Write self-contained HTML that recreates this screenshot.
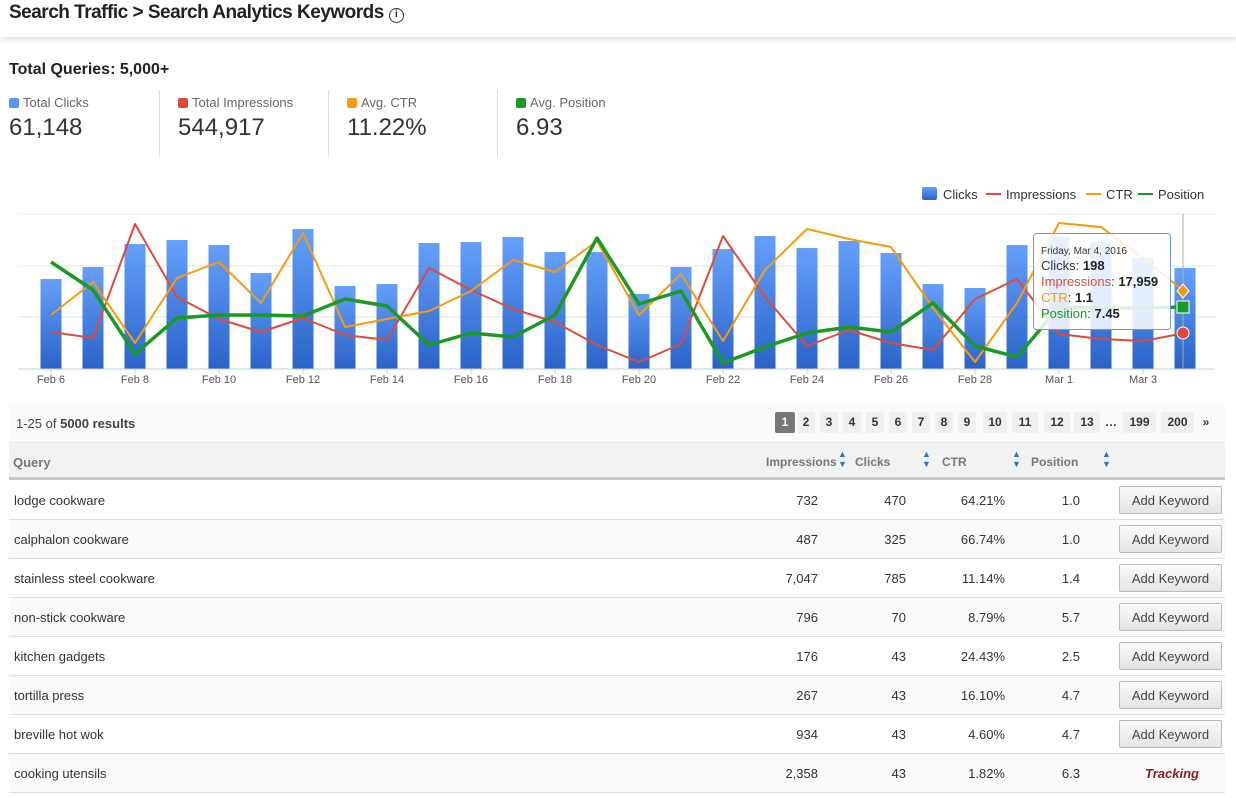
<!DOCTYPE html>
<html><head><meta charset="utf-8">
<style>
*{box-sizing:border-box;margin:0;padding:0}
body{width:1236px;height:798px;overflow:hidden;background:#fff;font-family:"Liberation Sans",sans-serif;color:#333;position:relative}
.a{position:absolute;white-space:nowrap}
.hdr{position:absolute;left:0;top:0;width:1236px;height:37px;background:#fff;box-shadow:0 2px 6px rgba(0,0,0,.15)}
.sl{font-size:13px;color:#666}
.sl i{display:inline-block;width:10px;height:10px;border-radius:2px;margin-right:4px;vertical-align:-1px}
.sv{font-size:24px;color:#333}
.dv{position:absolute;top:90px;width:1px;height:67px;background:#ddd}
.pg{position:absolute;top:412px;height:21px;background:#f0f0f0;font-size:12px;font-weight:bold;color:#333;text-align:center;line-height:21px}
.row{position:absolute;left:9px;width:1216px;height:39px;border-bottom:1px solid #ddd;font-size:13px}
.row span{position:absolute;top:12px}
.btn{position:absolute;left:1110px;top:5px;width:103px;height:28px;border:1px solid #bbb;border-radius:2px;background:linear-gradient(#fafafa,#e4e4e4);font-size:13px;color:#444;text-align:center;line-height:28px}
.ar{position:absolute;top:449px;color:#2a77c9;font-size:9px;line-height:10px}
.hl{position:absolute;top:455px;font-size:12px;font-weight:bold;color:#777}
</style></head><body>
<div class="hdr"></div>
<div class="a" style="left:9px;top:2px;font-size:19px;font-weight:bold;color:#222;letter-spacing:-0.5px">Search Traffic &gt; Search Analytics Keywords <span style="display:inline-block;width:15px;height:15px;border:1.5px solid #333;border-radius:50%;font-size:10px;text-align:center;line-height:12px;vertical-align:1px">i</span></div>
<div class="a" style="left:9px;top:61px;font-size:16px;font-weight:bold;color:#222">Total Queries: 5,000+</div>
<div class="a sl" style="left:9px;top:95px"><i style="background:#5b95f0"></i>Total Clicks</div>
<div class="a sl" style="left:178px;top:95px"><i style="background:#e04a3a"></i>Total Impressions</div>
<div class="a sl" style="left:347px;top:95px"><i style="background:#f89a0e"></i>Avg. CTR</div>
<div class="a sl" style="left:516px;top:95px"><i style="background:#1a9a22"></i>Avg. Position</div>
<div class="a sv" style="left:9px;top:114px">61,148</div>
<div class="a sv" style="left:178px;top:114px">544,917</div>
<div class="a sv" style="left:347px;top:114px">11.22%</div>
<div class="a sv" style="left:516px;top:114px">6.93</div>
<div class="dv" style="left:159px"></div><div class="dv" style="left:328px"></div><div class="dv" style="left:497px"></div>

<svg id="ch" class="a" style="left:0;top:180px" width="1236" height="215" xmlns="http://www.w3.org/2000/svg"></svg>

<div class="a" style="left:9px;top:403px;width:1216px;height:40px;background:#fafafa;border-bottom:1px solid #e6e6e6"></div>
<div class="a" style="left:16px;top:416px;font-size:13px;color:#444">1-25 of <b>5000 results</b></div>
<div id="pgs"></div>
<div class="a" style="left:9px;top:443px;width:1216px;height:37px;background:#f2f2f2;border-bottom:3px solid #c8c8c8"></div>
<div class="hl" style="left:13px;top:455px;font-size:13px">Query</div>
<div class="hl" style="left:766px">Impressions</div>
<div class="hl" style="left:855px">Clicks</div>
<div class="hl" style="left:942px">CTR</div>
<div class="hl" style="left:1031px">Position</div>
<div class="ar" style="left:838px">▲<br>▼</div><div class="ar" style="left:922px">▲<br>▼</div><div class="ar" style="left:1012px">▲<br>▼</div><div class="ar" style="left:1102px">▲<br>▼</div>
<div id="rows"></div>
<script>
var S='http://www.w3.org/2000/svg',svg=document.getElementById('ch');
function el(t,a,txt){var e=document.createElementNS(S,t);for(var k in a)e.setAttribute(k,a[k]);if(txt)e.textContent=txt;svg.appendChild(e);return e}
var o=180;
[214,266,317].forEach(function(y){el('line',{x1:18,x2:1215,y1:y-o,y2:y-o,stroke:'#e3e3e3','stroke-width':1})});
var defs=el('defs',{});defs.innerHTML='<linearGradient id="g" x1="0" y1="0" x2="0" y2="1"><stop offset="0" stop-color="#64a0fb"/><stop offset="1" stop-color="#2a63c8"/></linearGradient>';
var bars=[279,267,244,240,245,273,229,286,284,243,242,237,252,252,294,267,249,236,248,241,253,284,288,245,237,242,258,268];
var red=[332,338,224,297,319,332,318,335,340,268,290,309,322,345,362,344,236,297,346,330,343,350,299,279,334,339,341,333];
var ora=[315,282,343,278,262,303,233,327,319,311,291,260,272,241,315,274,341,270,229,239,247,308,362,303,223,227,258,292];
var grn=[262,290,354,318,315,315,316,299,306,345,333,337,315,238,304,291,363,347,333,327,332,303,346,357,307,308,308,307];
function X(i){return 51+42*i}
bars.forEach(function(t,i){el('rect',{x:X(i)-10.5,y:t-o,width:21,height:369-t,fill:'url(#g)'})});
el('line',{x1:18,x2:1215,y1:369-o,y2:369-o,stroke:'#c0ccdc','stroke-width':1});
el('line',{x1:1183,x2:1183,y1:214-o,y2:369-o,stroke:'#aaa','stroke-width':1});
function line(d,c,w){el('polyline',{points:d.map(function(y,i){return X(i)+','+(y-o)}).join(' '),fill:'none',stroke:c,'stroke-width':w,'stroke-linejoin':'round'})}
line(red,'#e04a3a',2);line(ora,'#f89a0e',2);line(grn,'#1a9a22',3.5);
var labs=['Feb 6','Feb 8','Feb 10','Feb 12','Feb 14','Feb 16','Feb 18','Feb 20','Feb 22','Feb 24','Feb 26','Feb 28','Mar 1','Mar 3'];
labs.forEach(function(l,j){el('line',{x1:X(2*j),x2:X(2*j),y1:369-o,y2:374-o,stroke:'#c0ccdc'});el('text',{x:X(2*j),y:383-o,'text-anchor':'middle','font-size':11,fill:'#555','font-family':'Liberation Sans'},l)});
el('circle',{cx:1183,cy:333-o,r:6,fill:'#e04a3a',stroke:'#fff','stroke-width':1});
el('rect',{x:1177,y:301-o,width:12,height:12,fill:'#1a9a22',stroke:'#fff','stroke-width':1});
el('path',{d:'M1183 '+(284-o)+' l6 7 l-6 7 l-6 -7z',fill:'#f89a0e',stroke:'#fff','stroke-width':1});
el('rect',{x:1033.5,y:233.5-o,width:137,height:96,rx:3,fill:'rgba(255,255,255,0.85)',stroke:'#6a9be0','stroke-width':1});
function tt(x,y,parts){var t=el('text',{x:x,y:y-o,'font-family':'Liberation Sans','font-size':parts[0][2]||13});parts.forEach(function(p){var s=document.createElementNS(S,'tspan');s.setAttribute('fill',p[1]);if(p[3])s.setAttribute('font-weight','bold');s.textContent=p[0];t.appendChild(s)})}
tt(1041,254,[['Friday, Mar 4, 2016','#333',10]]);
tt(1041,270,[['Clicks: ','#333'],['198','#222',13,1]]);
tt(1041,286,[['Impressions','#e04a3a'],[': ','#333'],['17,959','#222',13,1]]);
tt(1041,302,[['CTR','#f89a0e'],[': ','#333'],['1.1','#222',13,1]]);
tt(1041,318,[['Position','#1a9a22'],[':   ','#333'],['7.45','#222',13,1]]);
el('rect',{x:922,y:187-o,width:15,height:13,rx:2,fill:'url(#g)'});
el('text',{x:943,y:199-o,'font-size':13,fill:'#333','font-family':'Liberation Sans'},'Clicks');
el('line',{x1:986,x2:1001,y1:194-o,y2:194-o,stroke:'#e04a3a','stroke-width':2});
el('text',{x:1006,y:199-o,'font-size':13,fill:'#333','font-family':'Liberation Sans'},'Impressions');
el('line',{x1:1086,x2:1101,y1:194-o,y2:194-o,stroke:'#f89a0e','stroke-width':2});
el('text',{x:1106,y:199-o,'font-size':13,fill:'#333','font-family':'Liberation Sans'},'CTR');
el('line',{x1:1138,x2:1153,y1:194-o,y2:194-o,stroke:'#1a9a22','stroke-width':2});
el('text',{x:1158,y:199-o,'font-size':13,fill:'#333','font-family':'Liberation Sans'},'Position');
var pg=[['1',775,20],['2',797,18],['3',820,18],['4',843,18],['5',866,18],['6',889,18],['7',912,18],['8',935,18],['9',958,18],['10',983,24],['11',1012,26],['12',1044,26],['13',1074,26],['…',1102,18],['199',1123,33],['200',1161,33],['»',1198,16]];
var h='';pg.forEach(function(p){var st='left:'+p[1]+'px;width:'+p[2]+'px;';if(p[0]=='1')st+='background:#777;color:#fff;border-radius:2px;';if(p[0]=='…'||p[0]=='»')st+='background:none;';h+='<div class="pg" style="'+st+'">'+p[0]+'</div>'});
document.getElementById('pgs').innerHTML=h;
var rows=[['lodge cookware','732','470','64.21%','1.0'],['calphalon cookware','487','325','66.74%','1.0'],['stainless steel cookware','7,047','785','11.14%','1.4'],['non-stick cookware','796','70','8.79%','5.7'],['kitchen gadgets','176','43','24.43%','2.5'],['tortilla press','267','43','16.10%','4.7'],['breville hot wok','934','43','4.60%','4.7'],['cooking utensils','2,358','43','1.82%','6.3']];
h='';rows.forEach(function(r,i){var y=481+39*i;h+='<div class="row" style="top:'+y+'px;background:'+(i%2?'#fafafa':'#fff')+'"><span style="left:5px">'+r[0]+'</span><span style="right:407px">'+r[1]+'</span><span style="right:319px">'+r[2]+'</span><span style="right:220px">'+r[3]+'</span><span style="right:145px">'+r[4]+'</span>'+(i<7?'<div class="btn">Add Keyword</div>':'<span style="left:1136px;font-style:italic;font-weight:bold;color:#8b1a1a">Tracking</span>')+'</div>'});
document.getElementById('rows').innerHTML=h;
</script>
</body></html>
